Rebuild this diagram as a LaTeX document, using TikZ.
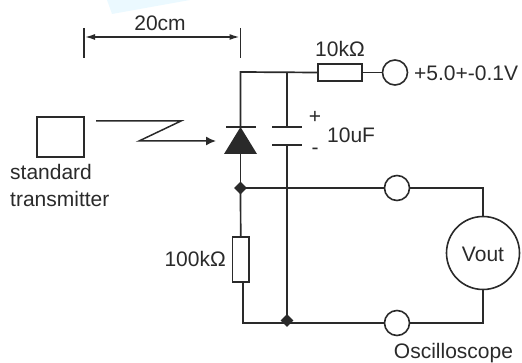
\documentclass[tikz,border=0pt]{standalone}
\usepackage{fontspec}
\setmainfont{Liberation Sans}
\usetikzlibrary{arrows.meta,shapes.geometric}
\definecolor{ink}{HTML}{2A2A2A}
\tikzset{x=1pt,y=-1pt,
 wire/.style={draw=ink,line width=1.7pt},
 thin wire/.style={draw=ink,line width=1.5pt},
 lab/.style={inner sep=0pt,text=ink,font=\fontsize{21}{23}\selectfont},
 term/.style={circle,draw=ink,line width=1.6pt,fill=white,minimum size=25pt,inner sep=0pt},
 res/.style={rectangle,draw=ink,line width=1.6pt,fill=white,inner sep=0pt},
 dot/.style={diamond,fill=ink,minimum size=13pt,inner sep=0pt}}
\begin{document}
\begin{tikzpicture}
\useasboundingbox (0,0) rectangle (522,363);
\fill[blue!30!cyan!8] (107,0) -- (112,14) -- (190,0) -- cycle;
% coordinates
\coordinate (t1) at (84,28); \coordinate (b1) at (84,58);
\coordinate (t2) at (240.5,28); \coordinate (b2) at (240.5,58);
\coordinate (d1) at (85,37); \coordinate (d2) at (239.5,37);
\coordinate (tl) at (240.5,72); \coordinate (tc) at (287,72);
\coordinate (capA) at (287,127); \coordinate (capB) at (287,145);
\coordinate (dK) at (240.5,127); \coordinate (dA) at (240.5,153);
\coordinate (zA) at (96,121); \coordinate (zB) at (181,121);
\coordinate (zC) at (139,141); \coordinate (zD) at (216,141);
\coordinate (bl) at (243,323); \coordinate (ml) at (243,300);
\coordinate (tr) at (483,188); \coordinate (br) at (483,323);
% dimension
\draw[thin wire] (t1) -- (b1);
\draw[thin wire] (t2) -- (b2);
\draw[thin wire,{Latex[length=10pt,width=6pt]}-{Latex[length=10pt,width=6pt]}] (d1) -- (d2);
\node[lab] (dim) at (160,23) {20cm};
% transmitter
\node[rectangle,draw=ink,line width=1.6pt,minimum width=47pt,minimum height=40pt,inner sep=0pt] (tx) at (60.5,137) {};
\node[lab,anchor=west] (tx1) at (10,172) {standard};
\node[lab,anchor=west] (tx2) at (10,199) {transmitter};
\draw[thin wire,-{Latex[length=10pt,width=9pt]}] (zA) -- (zB) -- (zC) -- (zD);
% top rail
\node[res,minimum width=44pt,minimum height=17pt] (r10) at (340,72.5) {};
\node[term] (vcc) at (395,72.5) {};
\draw[wire] (dK) -- (tl) -- (r10.west);
\draw[wire] (r10.east) -- (vcc.west);
\node[lab] (r10l) at (340,49) {10kΩ};
\node[lab,anchor=west] (vccl) at (414,73) {+5.0+-0.1V};
% diode
\node[dot] (j1) at (240.5,188) {};
\draw[wire] (dA) -- (j1.center);
\fill[ink] (224,154) -- (257,154) -- (240.5,127) -- cycle;
\draw[wire] (226,127) -- (256,127);
% capacitor
\node[dot] (j2) at (287,320.5) {};
\draw[wire] (tc) -- (capA);
\draw[wire] (capB) -- (j2.center);
\draw[wire] (272,127) -- (302,127);
\draw[wire] (272,145) -- (302,145);
\node[lab] (pl) at (315,117) {+};
\node[lab] (mi) at (315,151) {-};
\node[lab,anchor=west] (capl) at (327,135) {10uF};
% lower part
\node[term] (t3) at (397,188) {};
\node[term] (t4) at (397,323) {};
\node[circle,draw=ink,line width=1.6pt,fill=white,minimum size=73pt,inner sep=0pt] (vout) at (483,253) {};
\node[lab] (voutl) at (483,254) {Vout};
\draw[wire] (j1.center) -- (t3.west);
\draw[wire] (t3.east) -- (tr) -- (vout.north);
\draw[wire] (vout.south) -- (br) -- (t4.east);
\draw[wire] (t4.west) -- (bl) -- (ml);
\node[res,minimum width=16.5pt,minimum height=44.5pt] (r100) at (240.7,259.5) {};
\draw[wire] (j1.center) -- (r100.north);
\draw[wire] (243,281.7) -- (ml);
\node[lab,anchor=east] (r100l) at (226,259) {100kΩ};
\node[lab] (osc) at (453.5,353) {Oscilloscope};
\end{tikzpicture}
\end{document}
